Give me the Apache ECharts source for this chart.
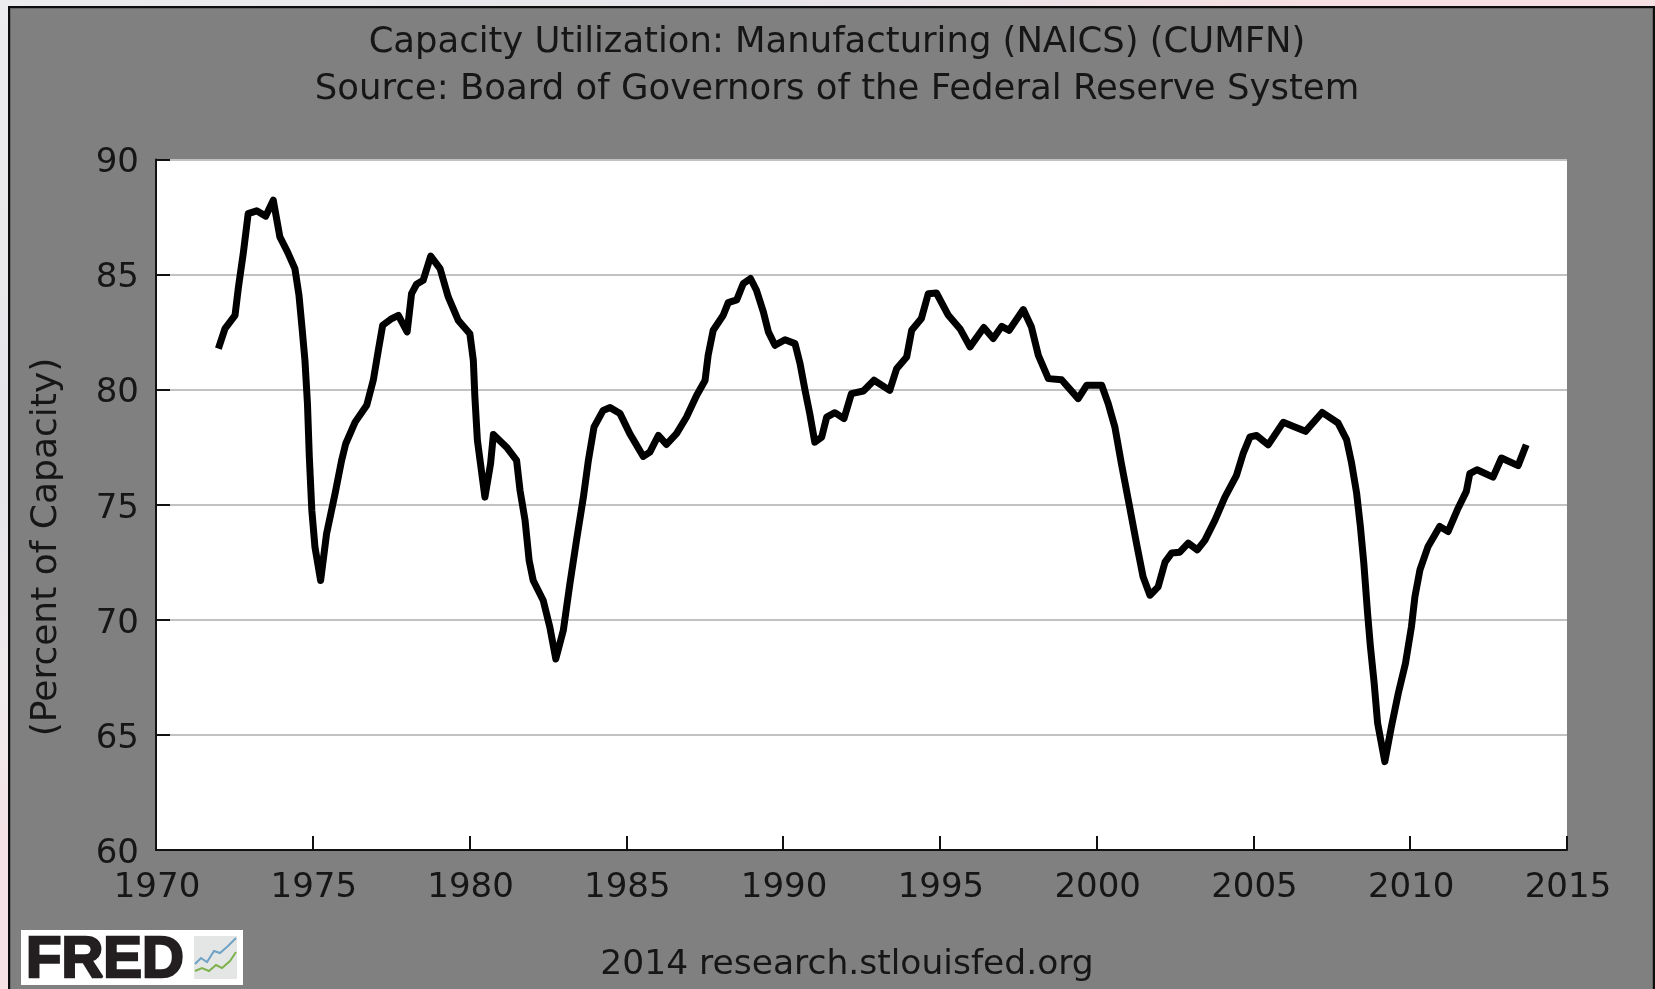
<!DOCTYPE html>
<html><head><meta charset="utf-8">
<script src="https://cdn.jsdelivr.net/npm/echarts@6/dist/echarts.min.js"></script>
<style>
html,body{margin:0;padding:0;width:1655px;height:989px;overflow:hidden;background:#eeeef0}
#lstrip{position:absolute;left:0;top:0;width:9px;height:989px;background:linear-gradient(180deg,#ececee 0,#e4e4e8 480px,#f0eaec 700px,#f4e2e5 830px)}
#tstrip{position:absolute;left:0;top:0;width:1655px;height:7px;background:linear-gradient(90deg,#ececee 0,#e6e6ea 700px,#f5e0e3 1300px)}
#frame{position:absolute;left:8px;top:6px;width:1647px;height:990px;box-sizing:border-box;background:#808080;border:2px solid #0d0d0d;box-shadow:inset 0 0 0 1px #666}
#chart{position:absolute;left:0;top:0;width:1655px;height:989px}
</style></head><body>
<div id="lstrip"></div><div id="tstrip"></div><div id="frame"></div><div id="chart"></div>
<script>
const titleLine1 = 'Capacity Utilization: Manufacturing (NAICS) (CUMFN)';
const titleLine2 = 'Source: Board of Governors of the Federal Reserve System';
const yAxisName = '(Percent of Capacity)';
const footer = '2014 research.stlouisfed.org';
const logoText = 'FRED';

const years = [
1971.99,1972.2,1972.52,1972.63,1972.79,1972.94,1973.21,1973.5,1973.74,1973.95,1974.19,1974.43,1974.56,1974.65,1974.75,1974.83,1974.89,1974.97,1975.07,1975.25,
1975.44,1975.71,1975.92,1976.05,1976.35,1976.72,1976.93,1977.09,1977.23,1977.52,1977.73,1978.01,1978.15,1978.31,1978.52,1978.76,1979.06,1979.32,1979.64,1980.01,
1980.12,1980.17,1980.25,1980.49,1980.67,1980.76,1981.18,1981.5,1981.61,1981.77,1981.9,1982.03,1982.35,1982.56,1982.75,1982.99,1983.2,1983.41,1983.63,1983.79,
1983.97,1984.26,1984.48,1984.8,1985.11,1985.54,1985.75,1986.02,1986.28,1986.6,1986.92,1987.24,1987.51,1987.61,1987.77,1988.09,1988.25,1988.52,1988.73,1988.96,
1989.15,1989.37,1989.53,1989.74,1990.06,1990.38,1990.54,1990.7,1990.85,1991.01,1991.23,1991.39,1991.65,1991.94,1992.18,1992.56,1992.9,1993.4,1993.62,1993.94,
1994.1,1994.41,1994.63,1994.89,1995.27,1995.64,1995.96,1996.4,1996.7,1996.97,1997.21,1997.66,1997.92,1998.14,1998.46,1998.88,1999.41,1999.68,2000.16,2000.37,
2000.58,2000.79,2001.06,2001.27,2001.48,2001.7,2001.96,2002.18,2002.39,2002.65,2002.92,2003.21,2003.45,2003.77,2004.09,2004.46,2004.67,2004.89,2005.1,2005.47,
2005.95,2006.32,2006.66,2007.19,2007.7,2007.97,2008.13,2008.29,2008.41,2008.52,2008.64,2008.73,2008.85,2008.96,2009.19,2009.4,2009.62,2009.85,2010.04,2010.15,
2010.31,2010.57,2010.94,2011.21,2011.53,2011.79,2011.9,2012.13,2012.64,2012.91,2013.44,2013.7];
const utilization = [
81.78,82.65,83.23,84.46,85.99,87.65,87.77,87.54,88.23,86.64,86.0,85.26,84.1,82.8,81.28,79.4,77.07,74.75,73.16,71.71,
73.74,75.48,76.93,77.65,78.59,79.32,80.41,81.71,82.8,83.09,83.23,82.51,84.17,84.58,84.75,85.8,85.26,84.03,83.01,82.43,
81.28,79.68,77.8,75.33,76.78,78.05,77.5,76.93,75.62,74.32,72.58,71.71,70.84,69.68,68.3,69.54,71.57,73.45,75.33,76.93,
78.38,79.1,79.22,78.96,78.09,77.1,77.29,78.01,77.62,78.09,78.81,79.75,80.4,81.5,82.58,83.23,83.78,83.9,84.61,84.83,
84.32,83.38,82.51,81.93,82.17,82.0,81.13,79.97,78.96,77.72,77.94,78.81,79.0,78.74,79.83,79.94,80.41,79.97,80.91,81.42,
82.58,83.09,84.17,84.2,83.23,82.65,81.86,82.7,82.22,82.75,82.58,83.48,82.72,81.49,80.48,80.43,79.61,80.19,80.19,79.39,
78.38,76.78,74.84,73.32,71.87,71.07,71.43,72.51,72.9,72.94,73.33,73.04,73.45,74.32,75.33,76.28,77.22,77.95,78.01,77.6,
78.58,78.38,78.19,79.01,78.55,77.83,76.81,75.51,74.06,72.46,70.29,68.84,67.25,65.51,63.84,65.36,66.81,68.12,69.71,71.01,
72.17,73.19,74.06,73.84,74.86,75.58,76.35,76.52,76.2,77.03,76.7,77.61];

const FONT = '"DejaVu Sans"';
const INK = '#161616';
const chart = echarts.init(document.getElementById('chart'), null, {renderer:'canvas'});
chart.setOption({
  animation:false,
  backgroundColor:'transparent',
  title:[
    {text:titleLine1,left:832,top:20,textAlign:'center',textStyle:{fontFamily:FONT,fontSize:35.4,fontWeight:'normal',color:INK}},
    {text:titleLine2,left:832,top:67,textAlign:'center',textStyle:{fontFamily:FONT,fontSize:35.5,fontWeight:'normal',color:INK}},
    {text:footer,left:842,top:943,textAlign:'center',textStyle:{fontFamily:FONT,fontSize:34.5,fontWeight:'normal',color:INK}}
  ],
  grid:{left:156,top:159.5,width:1411,height:690.5,show:true,backgroundColor:'#fff',borderWidth:0},
  xAxis:{type:'value',min:1970,max:2015,interval:5,
    axisLine:{show:true,onZero:false,lineStyle:{color:'#111',width:2}},
    axisTick:{show:true,inside:true,length:14,lineStyle:{color:'#111',width:2}},
    splitLine:{show:false},
    axisLabel:{show:true,margin:21,padding:[0,0,0,2],showMinLabel:true,showMaxLabel:true,formatter:v=>String(v),fontFamily:FONT,fontSize:34,color:INK}},
  yAxis:{type:'value',min:60,max:90,interval:5,
    axisLine:{show:true,lineStyle:{color:'#111',width:2}},
    axisTick:{show:true,inside:true,length:14,lineStyle:{color:'#111',width:2}},
    splitLine:{show:true,lineStyle:{color:'#c2c2c2',width:2,type:'solid'}},
    axisLabel:{show:true,margin:17,showMinLabel:true,showMaxLabel:true,formatter:v=>'{a|'+v+'}',
      rich:{a:{fontFamily:FONT,fontSize:34,color:INK,padding:[8,0,0,0]}}}},
  series:[{type:'line',data:years.map((y,i)=>[y,utilization[i]]),showSymbol:false,symbol:'none',smooth:false,clip:true,
    lineStyle:{color:'#000',width:7,join:'round',cap:'butt'}}],
  graphic:[
    {type:'text',rotation:Math.PI/2,x:47,y:547,style:{x:0,y:0,text:yAxisName,fill:INK,font:'36px "DejaVu Sans"',align:'center',verticalAlign:'middle'},z:6},
    {type:'rect',shape:{x:21,y:930,width:222,height:55},style:{fill:'#fff'},z:5},
    {type:'text',style:{x:26,y:961,text:logoText,fill:'#231f20',font:'bold 58px "Liberation Sans"',verticalAlign:'middle',stroke:'#231f20',lineWidth:2.5},z:6},
    {type:'rect',shape:{x:194,y:936,width:43,height:43},style:{fill:'#e4e6e6'},z:6},
    {type:'polyline',shape:{points:[[195,964],[201,958],[207,962],[214,951],[220,953],[228,946],[236,938]]},style:{stroke:'#6fa3c4',lineWidth:2,fill:null},z:7},
    {type:'polyline',shape:{points:[[195,971],[202,968],[209,971],[216,965],[222,968],[230,961],[236,952]]},style:{stroke:'#7fb24f',lineWidth:2,fill:null},z:7}
  ]
});
</script></body></html>
